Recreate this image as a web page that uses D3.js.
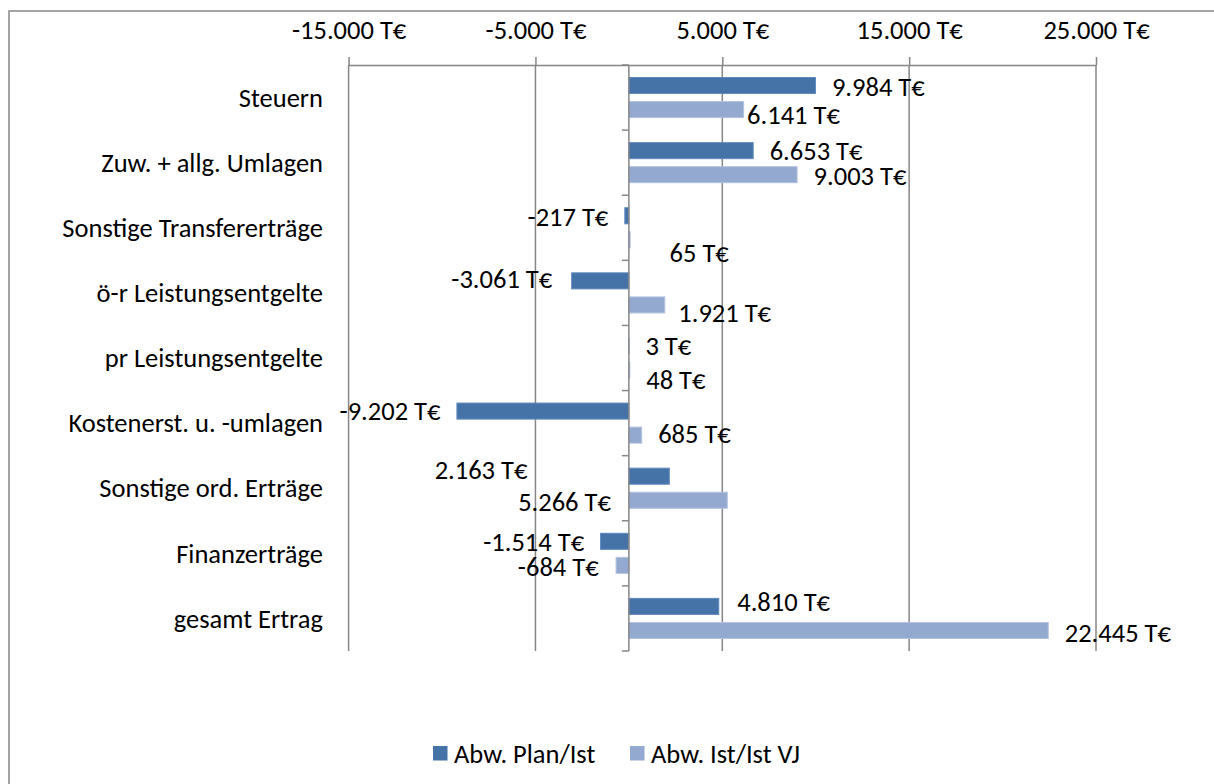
<!DOCTYPE html>
<html lang="de">
  <head>
    <meta charset="utf-8" />
    <title>Abweichungen Erträge</title>
    <script src="https://d3js.org/d3.v7.min.js"></script>
    <style>
      html,
      body {
        margin: 0;
        background: #fff;
      }
      svg text {
        font-family: Carlito, Lato, 'Open Sans', sans-serif;
        fill: #000;
      }
    </style>
  </head>
  <body>
    <svg></svg>
    <script>
      // data
      const categories = [
        'Steuern',
        'Zuw. + allg. Umlagen',
        'Sonstige Transfererträge',
        'ö-r Leistungsentgelte',
        'pr Leistungsentgelte',
        'Kostenerst. u. -umlagen',
        'Sonstige ord. Erträge',
        'Finanzerträge',
        'gesamt Ertrag',
      ]
      const seriesNames = ['Abw. Plan/Ist', 'Abw. Ist/Ist VJ']
      const planIst = [9984, 6653, -217, -3061, 3, -9202, 2163, -1514, 4810]
      const istIstVJ = [6141, 9003, 65, 1921, 48, 685, 5266, -684, 22445]
      const axisTicks = [-15000, -5000, 5000, 15000, 25000]

      // hand-moved data labels in the original (px nudges, flip = label on the other side)
      const labelNudge = [
        [{ dx: 0, dy: 1 }, { dx: -13, dy: 5.5 }],
        [{ dx: 0, dy: 0 }, { dx: 0, dy: 1 }],
        [{ dx: 0, dy: 1 }, { dx: 23, dy: 12.7 }],
        [{ dx: -3, dy: -2 }, { dx: -3, dy: 7.7 }],
        [{ dx: 0, dy: 0 }, { dx: 0, dy: 10 }],
        [{ dx: 0, dy: 0 }, { dx: 0, dy: -1.5 }],
        [{ dx: -85, dy: -6, flip: true }, { dx: -1.5, dy: 1, flip: true }],
        [{ dx: 0, dy: 0 }, { dx: -1, dy: 1 }],
        [{ dx: 2, dy: -5 }, { dx: 0, dy: 2.4 }],
      ]

      const colors = ['#4572a7', '#94a9cf']
      const strokes = ['#5f89bd', '#b2c2df']

      const width = 1214,
        height = 784
      const fontSize = 26.5

      const rows = categories.map((c, i) => ({
        category: c,
        values: [planIst[i], istIstVJ[i]],
      }))

      const svg = d3.select('svg').attr('width', width).attr('height', height)

      const de = d3.formatLocale({
        decimal: ',',
        thousands: '.',
        grouping: [3],
        currency: ['', ' T€'],
        minus: '-',
      })
      const fmt = (v) => de.format(',.0f')(v) + ' T€'

      const x = d3.scaleLinear().domain([-15000, 25000]).range([348.6, 1096])
      const y = d3.scaleBand().domain(categories).range([65, 651])
      const ySeries = d3
        .scaleBand()
        .domain([0, 1])
        .range([0, y.bandwidth()])
        .paddingInner(1 / 3)
        .paddingOuter(0.52)

      // outer frame (only top and left edges are inside the picture)
      svg
        .append('rect')
        .attr('x', 9)
        .attr('y', 11)
        .attr('width', 1300)
        .attr('height', 900)
        .attr('fill', 'none')
        .attr('stroke', '#868686')
        .attr('stroke-width', 1.5)

      // gridlines
      svg
        .append('g')
        .selectAll('line')
        .data(axisTicks)
        .join('line')
        .attr('x1', (d) => x(d))
        .attr('x2', (d) => x(d))
        .attr('y1', 65)
        .attr('y2', 651)
        .attr('stroke', '#868686')
        .attr('stroke-width', 1.5)

      // value axis at top
      svg
        .append('g')
        .attr('transform', 'translate(0,65)')
        .call(d3.axisTop(x).tickValues(axisTicks).tickFormat(fmt).tickSize(8).tickSizeOuter(0))
        .call((g) => g.select('.domain').attr('stroke', '#868686').attr('stroke-width', 1.5))
        .call((g) => g.selectAll('.tick line').attr('stroke', '#868686').attr('stroke-width', 1.5))
        .call((g) =>
          g.selectAll('.tick text').attr('font-size', fontSize).attr('font-family', null).attr('dy', '0.35em').attr('y', -35)
        )

      // bars
      const groups = svg
        .append('g')
        .selectAll('g')
        .data(rows)
        .join('g')
        .attr('transform', (d) => `translate(0,${y(d.category)})`)

      groups
        .selectAll('rect')
        .data((d) => d.values)
        .join('rect')
        .attr('x', (d) => x(Math.min(0, d)))
        .attr('y', (d, i) => ySeries(i))
        .attr('width', (d) => Math.abs(x(d) - x(0)))
        .attr('height', ySeries.bandwidth())
        .attr('fill', (d, i) => colors[i])
        .attr('stroke', (d, i) => strokes[i])
        .attr('stroke-width', 1)

      // data labels
      const gap = 16.5
      groups
        .selectAll('text')
        .data((d, ci) => d.values.map((v, si) => ({ v, si, n: labelNudge[ci][si] })))
        .join('text')
        .attr('font-size', fontSize)
        .attr('dy', '0.35em')
        .attr('text-anchor', (d) => ((d.v < 0) !== !!d.n.flip ? 'end' : 'start'))
        .attr('x', (d) => {
          let px
          if (d.n.flip) px = d.v >= 0 ? x(0) - gap : x(0) + gap
          else px = d.v < 0 ? x(d.v) - gap : x(d.v) + gap
          return px + d.n.dx
        })
        .attr('y', (d) => ySeries(d.si) + ySeries.bandwidth() / 2 + d.n.dy)
        .text((d) => fmt(d.v))

      // category axis at zero
      const catAxis = svg.append('g')
      catAxis
        .append('line')
        .attr('x1', x(0))
        .attr('x2', x(0))
        .attr('y1', 65)
        .attr('y2', 651)
        .attr('stroke', '#868686')
        .attr('stroke-width', 1.5)
      catAxis
        .selectAll('line.tick')
        .data(categories.map((c) => y(c)).concat([y.range()[1]]))
        .join('line')
        .attr('class', 'tick')
        .attr('x1', x(0) - 7)
        .attr('x2', x(0))
        .attr('y1', (d) => d)
        .attr('y2', (d) => d)
        .attr('stroke', '#868686')
        .attr('stroke-width', 1.5)

      svg
        .append('g')
        .selectAll('text')
        .data(categories)
        .join('text')
        .attr('x', 323)
        .attr('y', (d) => y(d) + y.bandwidth() / 2)
        .attr('dy', '0.35em')
        .attr('text-anchor', 'end')
        .attr('font-size', fontSize)
        .text((d) => d)

      // legend
      const legendX = [433, 630]
      const legend = svg
        .append('g')
        .selectAll('g')
        .data(seriesNames)
        .join('g')
        .attr('transform', (d, i) => `translate(${legendX[i]},746)`)
      legend
        .append('rect')
        .attr('width', 14.5)
        .attr('height', 14.5)
        .attr('fill', (d, i) => colors[i])
      legend
        .append('text')
        .attr('x', 21)
        .attr('y', 7.5)
        .attr('dy', '0.35em')
        .attr('font-size', fontSize)
        .text((d) => d)
    </script>
  </body>
</html>
